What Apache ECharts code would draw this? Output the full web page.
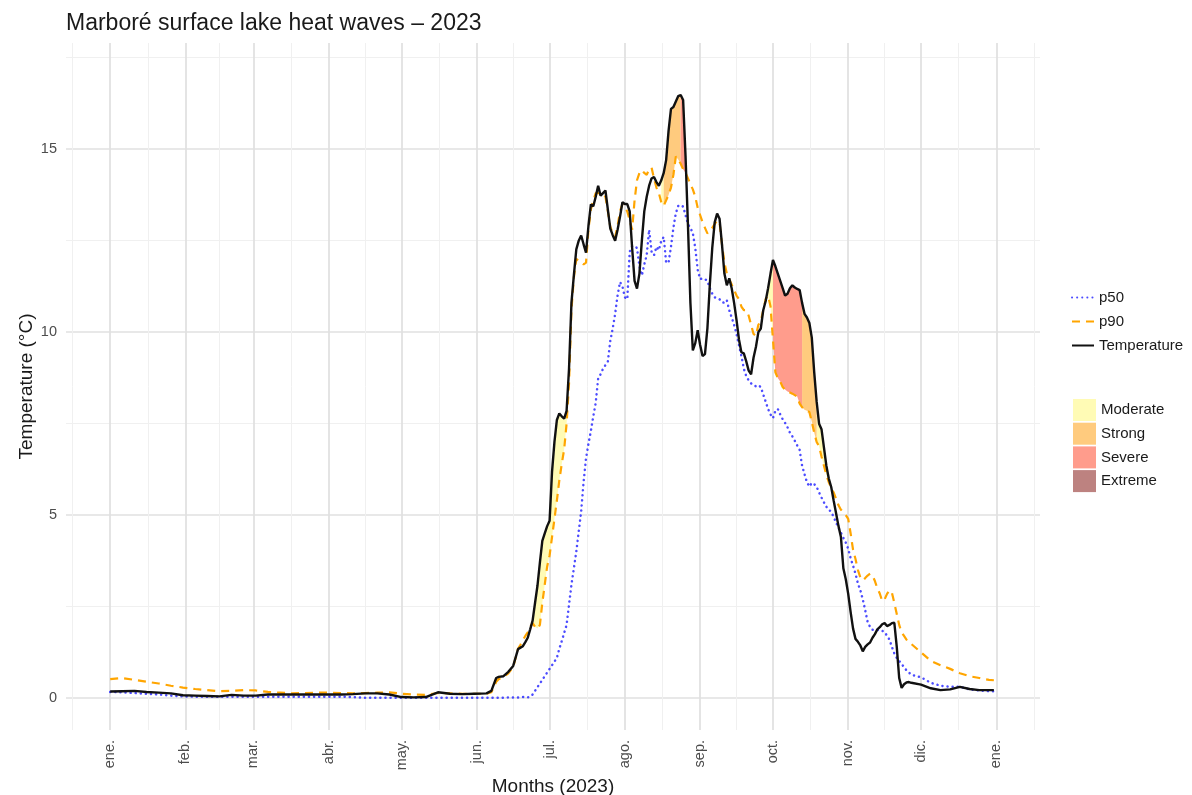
<!DOCTYPE html>
<html>
<head>
<meta charset="utf-8">
<title>Marboré heat waves 2023</title>
<script src="https://cdn.jsdelivr.net/npm/echarts@6.0.0/dist/echarts.min.js"></script>
<style>
    html, body { margin: 0; padding: 0; background: #fff; }
    #chart { width: 1192px; height: 795px; }
</style>
</head>
<body>
<div id="chart"></div>
<script>
// day of year (0 = 1 jan 2023)
var days = [
    0, 5, 10, 15, 20, 25, 30, 35, 40, 45, 50, 55, 60, 65, 70, 75, 80, 85, 90, 95,
    100, 105, 110, 115, 120, 125, 130, 135, 140, 145, 150, 155, 157, 159, 160, 162, 164, 166,
    168, 169, 170, 171, 172, 173, 174, 175, 176, 177,
    178, 179, 180, 181, 182, 183, 184, 185, 186, 187,
    188, 189, 190, 191, 192, 193, 194, 195, 196, 197,
    198, 199, 200, 201, 202, 203, 204, 205, 206, 207,
    208, 209, 210, 211, 212, 213, 214, 215, 216, 217,
    218, 219, 220, 221, 222, 223, 224, 225, 226, 227,
    228, 229, 230, 231, 232, 233, 234, 235, 236, 237,
    238, 239, 240, 241, 242, 243, 244, 245, 246, 247,
    248, 249, 250, 251, 252, 253, 254, 255, 256, 257,
    258, 259, 260, 261, 262, 263, 264, 265, 266, 267,
    268, 269, 270, 271, 272, 273, 274, 275, 276, 277,
    278, 279, 280, 281, 282, 283, 284, 285, 286, 287,
    288, 289, 290, 291, 292, 293, 294, 295, 296, 297,
    298, 299, 300, 301, 302, 303, 304, 305, 306, 307,
    308, 309, 310, 311, 312, 313, 314, 315, 316, 317,
    318, 319, 320, 321, 322, 323, 324, 325, 326, 327,
    328, 329, 330,
    334, 338, 342, 346, 350, 354, 358, 362, 364
]

var temperature = [
    0.18, 0.19, 0.2, 0.17, 0.15, 0.13, 0.08, 0.07, 0.06, 0.05, 0.09, 0.07, 0.07, 0.1, 0.1, 0.1, 0.1, 0.1, 0.1, 0.1,
    0.11, 0.13, 0.13, 0.1, 0.03, 0.02, 0.03, 0.16, 0.12, 0.11, 0.12, 0.13, 0.2, 0.55, 0.58, 0.6, 0.72, 0.88,
    1.34, 1.38, 1.42, 1.53, 1.65, 1.88, 2.12, 2.6, 3.07, 3.7,
    4.3, 4.5, 4.7, 4.85, 6.18, 7.0, 7.6, 7.78, 7.7, 7.64,
    7.85, 9.0, 10.8, 11.56, 12.26, 12.5, 12.64, 12.4, 12.17, 12.9,
    13.49, 13.44, 13.7, 14.0, 13.73, 13.8, 13.87, 13.35, 12.83, 12.65,
    12.5, 12.8, 13.15, 13.55, 13.5, 13.5, 13.3, 12.3, 11.4, 11.19,
    11.6, 12.5, 13.3, 13.7, 14.0, 14.2, 14.24, 14.1, 14.0, 14.15,
    14.35, 14.7, 15.5, 16.1, 16.15, 16.3, 16.45, 16.48, 16.34, 14.8,
    12.9, 10.8, 9.5, 9.7, 10.05, 9.65, 9.35, 9.4, 10.1, 11.3,
    12.3, 13.0, 13.24, 13.1, 12.4, 11.6, 11.28, 11.47, 11.2, 10.8,
    10.33, 9.8, 9.45, 9.42, 9.2, 8.95, 8.85, 9.3, 9.6, 10.0,
    10.1, 10.6, 10.85, 11.2, 11.6, 11.97, 11.8, 11.6, 11.4, 11.2,
    11.0, 11.05, 11.2, 11.28, 11.22, 11.18, 11.15, 10.8, 10.5, 10.4,
    10.25, 9.85, 8.9, 8.1, 7.5, 7.35, 6.85, 6.35, 6.0, 5.77,
    5.4, 5.05, 4.7, 4.4, 3.55, 3.25, 2.85, 2.35, 1.9, 1.62,
    1.54, 1.44, 1.28, 1.4, 1.47, 1.52, 1.65, 1.75, 1.88, 1.94,
    2.02, 2.05, 1.97, 2.0, 2.05, 2.06, 1.4, 0.55, 0.28, 0.38,
    0.43, 0.44, 0.42,
    0.37, 0.27, 0.22, 0.24, 0.31, 0.25, 0.22, 0.22, 0.22
]

var p90 = [
    0.52, 0.55, 0.5, 0.45, 0.4, 0.34, 0.29, 0.25, 0.22, 0.19, 0.2, 0.22, 0.21, 0.17, 0.15, 0.13, 0.14, 0.15, 0.15, 0.14,
    0.13, 0.14, 0.15, 0.16, 0.12, 0.1, 0.09, 0.14, 0.13, 0.12, 0.12, 0.12, 0.16, 0.45, 0.52, 0.58, 0.68, 0.85,
    1.35, 1.46, 1.58, 1.7, 1.8, 1.95, 2.05, 1.95, 1.9, 2.0,
    2.6, 3.1, 3.6, 3.9, 4.4, 4.9, 5.4, 5.95, 6.4, 6.8,
    7.5, 8.6, 10.6, 11.5, 12.0, 11.95, 11.9, 11.85, 11.9, 12.8,
    13.35, 13.6, 13.8, 13.8, 13.75, 13.75, 13.7, 13.3, 12.88, 12.7,
    12.6, 12.9, 13.3, 13.5, 13.4, 13.3, 13.06, 12.8, 13.6, 14.15,
    14.35, 14.43, 14.35, 14.3, 14.45, 14.5, 14.2, 13.95, 13.8, 13.55,
    13.45, 13.6, 13.75, 13.95, 14.3, 14.8, 14.72, 14.6, 14.45, 14.35,
    14.2, 14.05, 13.9, 13.7, 13.4, 13.2, 13.0, 12.85, 12.7, 12.75,
    12.85, 12.95, 13.05, 13.0, 12.4, 11.9, 11.6, 11.45, 11.3, 11.15,
    11.0, 10.9, 10.7, 10.6, 10.6, 10.45, 10.2, 9.95, 9.9, 10.2,
    10.3, 10.6, 10.9, 11.0, 10.7, 9.8, 8.9, 8.75, 8.65, 8.5,
    8.43, 8.38, 8.35, 8.32, 8.28, 8.24, 8.05, 7.95, 7.88, 7.85,
    7.82, 7.55, 7.25, 7.0, 6.88, 6.6, 6.35, 6.1, 5.9, 5.75,
    5.62, 5.45, 5.27, 5.15, 5.08, 5.0, 4.9, 4.5, 4.05, 3.8,
    3.5, 3.3, 3.22, 3.28, 3.35, 3.4, 3.35, 3.2, 3.0, 2.86,
    2.65, 2.7, 2.85, 2.95, 2.88, 2.6, 2.3, 2.0, 1.8, 1.7,
    1.6, 1.52, 1.48,
    1.25, 1.02, 0.9, 0.8, 0.68, 0.6, 0.55, 0.5, 0.49
]

var p50 = [
    0.17, 0.16, 0.14, 0.12, 0.1, 0.07, 0.05, 0.04, 0.04, 0.04, 0.04, 0.04, 0.04, 0.04, 0.04, 0.04, 0.04, 0.04, 0.04, 0.04,
    0.03, 0.01, 0.01, 0.01, 0.01, 0.01, 0.01, 0.01, 0.01, 0.01, 0.01, 0.01, 0.01, 0.01, 0.01, 0.01, 0.02, 0.02,
    0.02, 0.02, 0.03, 0.03, 0.02, 0.05, 0.1, 0.2, 0.3, 0.4,
    0.5, 0.6, 0.7, 0.8, 0.9, 1.0, 1.1, 1.35, 1.56, 1.78,
    2.0, 2.55, 3.1, 3.55, 4.0, 4.55, 5.1, 5.9, 6.55, 6.95,
    7.3, 7.7, 8.07, 8.73, 8.85, 9.0, 9.1, 9.2, 9.76, 10.1,
    10.5, 11.0, 11.37, 11.25, 10.95, 10.9, 12.2, 12.35, 12.35, 12.3,
    11.8, 11.55, 11.85, 12.1, 12.8, 12.2, 12.1, 12.33, 12.24, 12.5,
    12.6, 11.9, 11.9, 12.33, 12.85, 13.25, 13.45, 13.47, 13.43, 13.2,
    12.95, 12.85, 12.7, 12.3, 11.7, 11.45, 11.47, 11.45, 11.4, 11.2,
    11.05, 10.95, 10.93, 10.9, 10.82, 10.8, 10.87, 10.6, 10.4, 10.2,
    9.95, 9.65, 9.35, 9.0, 8.8, 8.68, 8.6, 8.55, 8.52, 8.55,
    8.5, 8.3, 8.1, 7.9, 7.75, 7.65, 7.85, 7.9, 7.75, 7.62,
    7.52, 7.4, 7.25, 7.15, 7.03, 6.9, 6.78, 6.35, 6.12, 5.9,
    5.78, 5.88, 5.85, 5.77, 5.62, 5.48, 5.35, 5.23, 5.15, 5.09,
    4.95, 4.8, 4.65, 4.52, 4.38, 4.25, 4.08, 3.82, 3.62, 3.4,
    3.13, 2.95, 2.7, 2.4, 2.08, 1.95, 1.87, 1.86, 1.86, 1.86,
    1.84, 1.81, 1.7, 1.6, 1.4, 1.22, 1.1, 1.02, 0.93, 0.85,
    0.76, 0.7, 0.64,
    0.57, 0.42, 0.34, 0.31, 0.31, 0.24, 0.21, 0.19, 0.19
]

// heat wave stretches (day of year) and their category
var hwCategory = ['Moderate', 'Moderate', 'Strong', 'Severe', 'Moderate', 'Severe', 'Strong', 'Moderate']
var hwStart = [174, 227, 228, 235, 271, 273, 285, 291]
var hwEnd = [190, 228, 235, 237, 273, 285, 291, 296]

// month breaks
var monthDays = [0, 31, 59, 90, 120, 151, 181, 212, 243, 273, 304, 334, 365]
var monthLabels = ['ene.', 'feb.', 'mar.', 'abr.', 'may.', 'jun.', 'jul.', 'ago.', 'sep.', 'oct.', 'nov.', 'dic.', 'ene.']
var monthMinor = [-15.5, 15.5, 45, 74.5, 105, 135.5, 166, 196.5, 227.5, 258, 288.5, 319, 349.5, 380.5]
var yMajor = [0, 5, 10, 15]
var yMinor = [2.5, 7.5, 12.5, 17.5]

var categories = ['Moderate', 'Strong', 'Severe', 'Extreme']
var catColors = {
    Moderate: '#FFFBB5',
    Strong: '#FFCB7E',
    Severe: '#FF9C8C',
    Extreme: '#BD8280'
}

var fontFamily = '"Liberation Sans", Arial, Helvetica, sans-serif'
var textColor = '#4D4D4D'
var majorGrid = '#E0E0E0'
var minorGrid = '#F0F0F0'

function pairs(values) {
    return days.map(function (d, i) { return [d, values[i]] })
}

// polygon between temperature and p90 for one stretch
function flameItem(params, api) {
    var from = api.value(0)
    var to = api.value(1)
    var top = []
    var bottom = []
    for (var k = 0; k < days.length; k++) {
        if (days[k] < from || days[k] > to) continue
        top.push(api.coord([days[k], Math.max(temperature[k], p90[k])]))
        bottom.push(api.coord([days[k], p90[k]]))
    }
    return {
        type: 'polygon',
        shape: { points: top.concat(bottom.reverse()) },
        style: { fill: api.visual('color'), stroke: null }
    }
}

var series = []
categories.forEach(function (cat) {
    var data = []
    for (var i = 0; i < hwCategory.length; i++) {
        if (hwCategory[i] === cat) data.push([hwStart[i], hwEnd[i]])
    }
    series.push({
        name: cat,
        type: 'custom',
        renderItem: flameItem,
        encode: { x: [0, 1] },
        itemStyle: { color: catColors[cat] },
        silent: true,
        z: 1,
        data: data
    })
})

series.push({
    name: 'p50',
    type: 'line',
    symbol: 'none',
    z: 3,
    itemStyle: { color: '#3535FF' },
    lineStyle: { color: 'rgba(45,45,255,0.85)', width: 2.5, type: [0.1, 5], cap: 'round' },
    data: pairs(p50)
})
series.push({
    name: 'p90',
    type: 'line',
    symbol: 'none',
    z: 4,
    itemStyle: { color: '#FFA500' },
    lineStyle: { color: '#FFA500', width: 2.2, type: [8, 6] },
    data: pairs(p90)
})
series.push({
    name: 'Temperature',
    type: 'line',
    symbol: 'none',
    z: 5,
    itemStyle: { color: '#111111' },
    lineStyle: { color: '#111111', width: 2.4 },
    data: pairs(temperature)
})

var option = {
    animation: false,
    backgroundColor: '#ffffff',
    textStyle: { fontFamily: fontFamily },
    title: {
        text: 'Marboré surface lake heat waves – 2023',
        left: 61,
        top: 7,
        textStyle: { fontFamily: fontFamily, fontSize: 23, fontWeight: 'normal', color: '#1a1a1a' }
    },
    legend: [
        {
            data: ['p50', 'p90', 'Temperature'],
            orient: 'vertical',
            left: 1066,
            top: 285,
            itemWidth: 22,
            itemHeight: 14,
            itemGap: 9,
            selectedMode: false,
            itemStyle: { opacity: 0 },
            textStyle: { fontFamily: fontFamily, fontSize: 15, color: '#1a1a1a' }
        },
        {
            data: categories.map(function (c) {
                return { name: c, icon: 'rect', itemStyle: { color: catColors[c] } }
            }),
            orient: 'vertical',
            left: 1068,
            top: 394,
            itemWidth: 23,
            itemHeight: 22,
            itemGap: 1.7,
            selectedMode: false,
            textStyle: { fontFamily: fontFamily, fontSize: 15, color: '#1a1a1a' }
        }
    ],
    grid: {
        left: 66,
        right: 152,
        top: 43,
        bottom: 65,
        containLabel: false,
        outerBoundsMode: 'none'
    },
    xAxis: [
        {
            type: 'value',
            min: -18.2,
            max: 383,
            name: 'Months (2023)',
            nameLocation: 'middle',
            nameGap: 47,
            nameMoveOverlap: false,
            nameTextStyle: { fontFamily: fontFamily, fontSize: 19, color: '#1a1a1a' },
            axisLine: { show: false, onZero: false },
            axisTick: { show: false, customValues: monthDays },
            axisLabel: {
                customValues: monthDays,
                rotate: 90,
                margin: 10,
                color: textColor,
                fontSize: 14.5,
                fontFamily: fontFamily,
                formatter: function (v) {
                    var i = monthDays.indexOf(v)
                    return i >= 0 ? monthLabels[i] : ''
                }
            },
            splitLine: { show: true, lineStyle: { color: majorGrid, width: 1.7 } }
        },
        {
            type: 'value',
            min: -18.2,
            max: 383,
            position: 'bottom',
            axisLine: { show: false, onZero: false },
            axisTick: { show: false, customValues: monthMinor },
            axisLabel: { show: false, customValues: monthMinor },
            splitLine: { show: true, lineStyle: { color: minorGrid, width: 1 } }
        }
    ],
    yAxis: [
        {
            type: 'value',
            min: -0.87,
            max: 17.9,
            name: 'Temperature (°C)',
            nameLocation: 'middle',
            nameGap: 30,
            nameMoveOverlap: false,
            nameTextStyle: { fontFamily: fontFamily, fontSize: 19, color: '#1a1a1a' },
            axisLine: { show: false, onZero: false },
            axisTick: { show: false, customValues: yMajor },
            axisLabel: {
                customValues: yMajor,
                margin: 9,
                color: textColor,
                fontSize: 14.5,
                fontFamily: fontFamily
            },
            splitLine: { show: true, lineStyle: { color: majorGrid, width: 1.7 } }
        },
        {
            type: 'value',
            min: -0.87,
            max: 17.9,
            position: 'left',
            axisLine: { show: false, onZero: false },
            axisTick: { show: false, customValues: yMinor },
            axisLabel: { show: false, customValues: yMinor },
            splitLine: { show: true, lineStyle: { color: minorGrid, width: 1 } }
        }
    ],
    series: series
}

var myChart = echarts.init(document.getElementById('chart'), null, { renderer: 'canvas' })
myChart.setOption(option)
</script>
</body>
</html>
